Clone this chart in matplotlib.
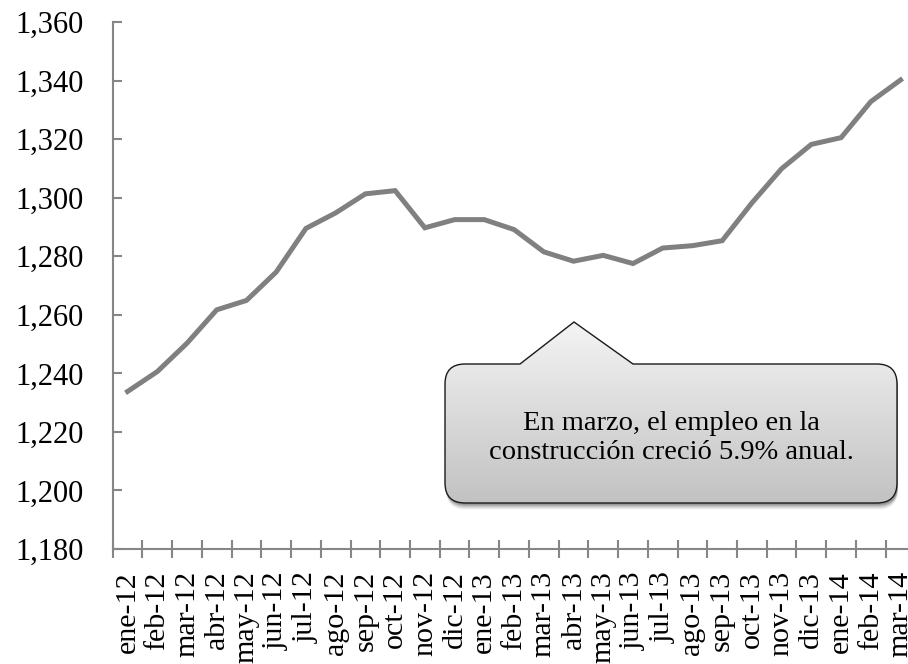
import numpy as np
import matplotlib
matplotlib.use("Agg")
import matplotlib.pyplot as plt
from matplotlib.path import Path
import matplotlib.patches as patches
from matplotlib.ticker import FuncFormatter

plt.rcParams['font.family'] = ['Liberation Serif', 'DejaVu Serif']

# data (miles de trabajadores)
meses = ['ene-12', 'feb-12', 'mar-12', 'abr-12', 'may-12', 'jun-12', 'jul-12',
         'ago-12', 'sep-12', 'oct-12', 'nov-12', 'dic-12', 'ene-13', 'feb-13',
         'mar-13', 'abr-13', 'may-13', 'jun-13', 'jul-13', 'ago-13', 'sep-13',
         'oct-13', 'nov-13', 'dic-13', 'ene-14', 'feb-14', 'mar-14']
empleo = [1233.8, 1240.6, 1250.3, 1261.7, 1264.9, 1274.6, 1289.5,
          1294.8, 1301.3, 1302.4, 1289.7, 1292.5, 1292.5, 1289.1,
          1281.5, 1278.3, 1280.3, 1277.5, 1282.8, 1283.6, 1285.3,
          1298.2, 1309.9, 1318.2, 1320.5, 1332.8, 1340.2]
y_ticks = list(range(1180, 1361, 20))
nota = 'En marzo, el empleo en la\nconstrucción creció 5.9% anual.'

W, H = 908, 664
fig = plt.figure(figsize=(W / 100, H / 100), dpi=100)
fig.set_facecolor('white')

# plot area (right edge runs slightly past the figure, as in the original)
ax = fig.add_axes([112.7 / W, 115 / H, 802.7 / W, 527 / H])
x = np.arange(len(meses))
ax.plot(x, empleo, color='#808080', lw=3.6, solid_joinstyle='miter', zorder=3)

ax.set_xlim(-0.5, len(meses) - 0.5)
ax.set_ylim(y_ticks[0], y_ticks[-1])
ax.set_yticks(y_ticks)
ax.yaxis.set_major_formatter(FuncFormatter(lambda v, p: f'{v:,.0f}'))

# tick marks on category boundaries, labels at category centres
ax.set_xticks(np.arange(-0.5, len(meses), 1))
ax.set_xticklabels([])
ax.set_xticks(x, minor=True)
ax.set_xticklabels(meses, minor=True, rotation=90, fontsize=21.6)
ax.tick_params(axis='x', which='major', direction='inout', length=13, width=1.5, color='#868686')
ax.tick_params(axis='x', which='minor', length=0, pad=16)
ax.tick_params(axis='y', direction='in', length=6.5, width=1.5, color='#868686',
               labelsize=22, pad=21)

for s in ['top', 'right']:
    ax.spines[s].set_visible(False)
for s in ['left', 'bottom']:
    ax.spines[s].set_color('#868686')
    ax.spines[s].set_linewidth(1.5)

# callout box, drawn in pixel coords over the whole figure
ov = fig.add_axes([0, 0, 1, 1])
ov.set_xlim(0, W)
ov.set_ylim(H, 0)
ov.axis('off')
ov.patch.set_alpha(0)

x0, x1, y0, y1, r = 445, 897, 364, 503, 20
tip = (574, 322)
bl, br = 520, 633
verts = [(x0 + r, y0), (bl, y0), tip, (br, y0), (x1 - r, y0),
         (x1, y0), (x1, y0 + r),
         (x1, y1 - r),
         (x1, y1), (x1 - r, y1),
         (x0 + r, y1),
         (x0, y1), (x0, y1 - r),
         (x0, y0 + r),
         (x0, y0), (x0 + r, y0)]
codes = [Path.MOVETO, Path.LINETO, Path.LINETO, Path.LINETO, Path.LINETO,
         Path.CURVE3, Path.CURVE3,
         Path.LINETO,
         Path.CURVE3, Path.CURVE3,
         Path.LINETO,
         Path.CURVE3, Path.CURVE3,
         Path.LINETO,
         Path.CURVE3, Path.CURVE3]
box = Path(verts, codes)

# soft shadow
for k, a in zip([7, 6, 5, 4, 3, 2], [0.03, 0.05, 0.07, 0.09, 0.11, 0.13]):
    sh = box.transformed(matplotlib.transforms.Affine2D().translate(1, k))
    ov.add_patch(patches.PathPatch(sh, fc='black', ec='none', alpha=a, transform=ov.transData))

# gradient fill
grad = np.linspace(0, 1, 256).reshape(-1, 1)
im = ov.imshow(grad, cmap=matplotlib.colors.LinearSegmentedColormap.from_list(
    'g', ['#f4f4f4', '#c2c2c2']), extent=(x0, x1, y1, tip[1]), aspect='auto',
    origin='upper', zorder=2)
border = patches.PathPatch(box, fc='none', ec='#1a1a1a', lw=1.0, zorder=3)
ov.add_patch(border)
im.set_clip_path(border)
ov.set_xlim(0, W)
ov.set_ylim(H, 0)

ov.text((x0 + x1) / 2, 438, nota, ha='center', va='center', fontsize=20.5,
        linespacing=1.25, color='black', zorder=4)

fig.savefig('out.png', dpi=100, facecolor='white')
